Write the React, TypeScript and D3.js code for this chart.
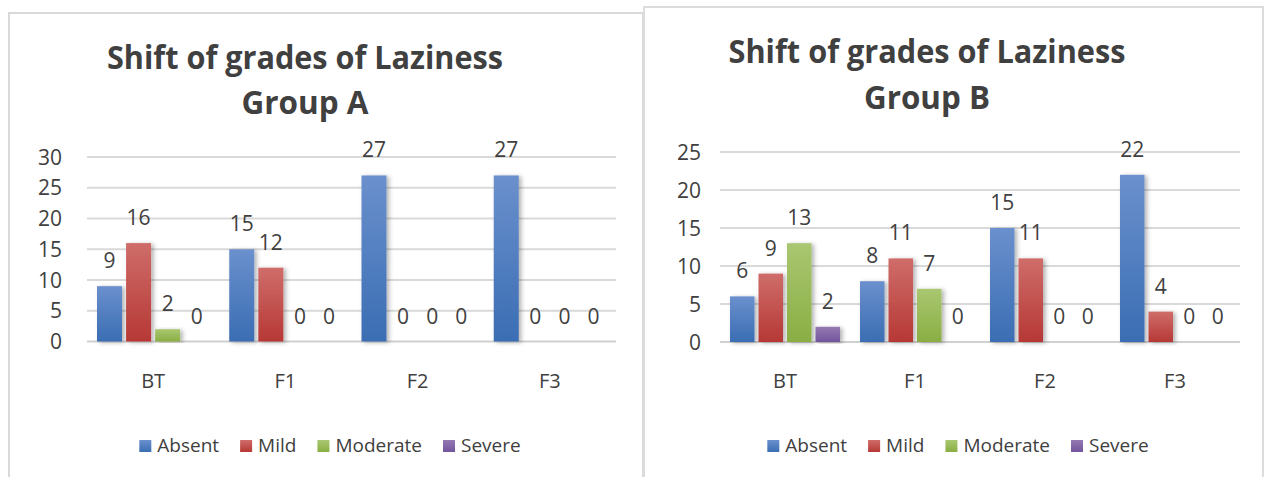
import React, { useEffect, useRef } from "react";
import * as d3 from "d3";

// categories and series shared by both charts
const categories = ["BT", "F1", "F2", "F3"];
const seriesNames = ["Absent", "Mild", "Moderate", "Severe"];

// Group A values, one array per series (BT, F1, F2, F3)
const groupAAbsent = [9, 15, 27, 27];
const groupAMild = [16, 12, 0, 0];
const groupAModerate = [2, 0, 0, 0];
const groupASevere = [0, 0, 0, 0];
const groupATicks = [0, 5, 10, 15, 20, 25, 30];

// Group B values
const groupBAbsent = [6, 8, 15, 22];
const groupBMild = [9, 11, 11, 4];
const groupBModerate = [13, 7, 0, 0];
const groupBSevere = [2, 0, 0, 0];
const groupBTicks = [0, 5, 10, 15, 20, 25];

const colors = [
  { top: "#6b90cd", bottom: "#3a6db3" },
  { top: "#cf6d6a", bottom: "#b63835" },
  { top: "#a9c771", bottom: "#8aae43" },
  { top: "#9479b2", bottom: "#72559d" },
];

const FONT = "'Open Sans', 'Noto Sans', sans-serif";
const TEXT = "#404040";

type ChartConf = {
  id: string;
  title: [string, string];
  titleX: number;
  titleY: [number, number];
  titleW: [number, number];
  values: number[][];
  ticks: number[];
  x0: number;
  x1: number;
  y0: number;
  y1: number;
  labelX: number;
  legendCx: number;
};

const charts: ChartConf[] = [
  {
    id: "a",
    title: ["Shift of grades of Laziness", "Group A"],
    titleX: 305,
    titleY: [69, 114],
    titleW: [396, 127],
    values: [groupAAbsent, groupAMild, groupAModerate, groupASevere],
    ticks: groupATicks,
    x0: 87,
    x1: 616,
    y0: 341.5,
    y1: 157,
    labelX: 62,
    legendCx: 330,
  },
  {
    id: "b",
    title: ["Shift of grades of Laziness", "Group B"],
    titleX: 927,
    titleY: [63, 109],
    titleW: [397, 126],
    values: [groupBAbsent, groupBMild, groupBModerate, groupBSevere],
    ticks: groupBTicks,
    x0: 720,
    x1: 1240,
    y0: 342,
    y1: 152,
    labelX: 701,
    legendCx: 958,
  },
];

const App = () => {
  const svgRef = useRef<SVGSVGElement | null>(null);

  const drawChart = () => {
    if (!svgRef.current) return;
    const svg = d3.select(svgRef.current);
    svg.selectAll("*").remove();

    const defs = svg.append("defs");
    colors.forEach((c, i) => {
      const g = defs
        .append("linearGradient")
        .attr("id", `grad${i}`)
        .attr("x1", 0)
        .attr("y1", 0)
        .attr("x2", 0)
        .attr("y2", 1);
      g.append("stop").attr("offset", "0%").attr("stop-color", c.top);
      g.append("stop").attr("offset", "100%").attr("stop-color", c.bottom);
    });
    defs
      .append("filter")
      .attr("id", "shadow")
      .attr("x", "-30%")
      .attr("y", "-10%")
      .attr("width", "160%")
      .attr("height", "120%")
      .append("feDropShadow")
      .attr("dx", 2.5)
      .attr("dy", 1)
      .attr("stdDeviation", 2)
      .attr("flood-color", "#000")
      .attr("flood-opacity", 0.3);

    // panel borders (B sits over A)
    svg
      .append("rect")
      .attr("x", 9)
      .attr("y", 13)
      .attr("width", 634)
      .attr("height", 520)
      .attr("fill", "#fff")
      .attr("stroke", "#d9d9d9")
      .attr("stroke-width", 2);
    svg
      .append("rect")
      .attr("x", 644)
      .attr("y", 7)
      .attr("width", 619)
      .attr("height", 520)
      .attr("fill", "#fff")
      .attr("stroke", "#dcdcdc")
      .attr("stroke-width", 2);

    charts.forEach((c) => {
      const g = svg.append("g").attr("class", `chart-${c.id}`);

      // title, squeezed to the reference width
      c.title.forEach((t, i) => {
        g.append("text")
          .attr("x", c.titleX)
          .attr("y", c.titleY[i])
          .attr("text-anchor", "middle")
          .attr("font-family", FONT)
          .attr("font-weight", 700)
          .attr("font-size", 32)
          .attr("fill", TEXT)
          .attr("textLength", c.titleW[i])
          .attr("lengthAdjust", "spacingAndGlyphs")
          .text(t);
      });

      const yMax = c.ticks[c.ticks.length - 1];
      const y = d3.scaleLinear().domain([0, yMax]).range([c.y0, c.y1]);
      const x = d3.scaleBand().domain(categories).range([c.x0, c.x1]);
      const xs = d3
        .scaleBand()
        .domain(seriesNames)
        .range([10, x.bandwidth() - 10])
        .paddingInner(0.14);

      // gridlines
      g.selectAll(".grid")
        .data(c.ticks)
        .enter()
        .append("line")
        .attr("x1", c.x0)
        .attr("x2", c.x1)
        .attr("y1", (d) => y(d))
        .attr("y2", (d) => y(d))
        .attr("stroke", (d) => (d === 0 ? "#d0d0d0" : "#d9d9d9"))
        .attr("stroke-width", 1.8);

      // y labels
      g.selectAll(".ylab")
        .data(c.ticks)
        .enter()
        .append("text")
        .attr("x", c.labelX)
        .attr("y", (d) => y(d))
        .attr("dy", "0.36em")
        .attr("text-anchor", "end")
        .attr("font-family", FONT)
        .attr("font-size", 21)
        .attr("fill", TEXT)
        .text((d) => d);

      // x labels
      g.selectAll(".xlab")
        .data(categories)
        .enter()
        .append("text")
        .attr("x", (d) => (x(d) as number) + x.bandwidth() / 2)
        .attr("y", 388)
        .attr("text-anchor", "middle")
        .attr("font-family", FONT)
        .attr("font-size", 20)
        .attr("fill", TEXT)
        .text((d) => d);

      // bars + labels
      const cells = c.values.flatMap((vals, si) =>
        vals.map((v, ci) => ({ s: si, cat: categories[ci], v }))
      );

      g.selectAll(".bar")
        .data(cells.filter((d) => d.v > 0))
        .enter()
        .append("rect")
        .attr("x", (d) => (x(d.cat) as number) + (xs(seriesNames[d.s]) as number))
        .attr("y", (d) => y(d.v))
        .attr("width", xs.bandwidth())
        .attr("height", (d) => y(0) - y(d.v))
        .attr("fill", (d) => `url(#grad${d.s})`)
        .attr("filter", "url(#shadow)");

      g.selectAll(".val")
        .data(cells)
        .enter()
        .append("text")
        .attr(
          "x",
          (d) =>
            (x(d.cat) as number) +
            (xs(seriesNames[d.s]) as number) +
            xs.bandwidth() / 2
        )
        .attr("y", (d) => y(d.v) - 18)
        .attr("text-anchor", "middle")
        .attr("font-family", FONT)
        .attr("font-size", 21)
        .attr("fill", TEXT)
        .text((d) => d.v);

      // legend, laid out from measured text widths
      const leg = g.append("g");
      const items = seriesNames.map((name, i) => {
        const item = leg.append("g");
        item
          .append("rect")
          .attr("x", 0)
          .attr("y", 440)
          .attr("width", 12)
          .attr("height", 12)
          .attr("fill", `url(#grad${i})`);
        const txt = item
          .append("text")
          .attr("x", 18)
          .attr("y", 452)
          .attr("font-family", FONT)
          .attr("font-size", 19)
          .attr("fill", TEXT)
          .text(name);
        const w = (txt.node() as SVGTextElement).getComputedTextLength();
        return { item, w: 18 + w };
      });
      const gap = 21;
      const total = d3.sum(items, (d) => d.w) + gap * (items.length - 1);
      let cx = c.legendCx - total / 2;
      items.forEach((d) => {
        d.item.attr("transform", `translate(${cx},0)`);
        cx += d.w + gap;
      });
    });
  };

  useEffect(() => {
    drawChart();
  }, []);

  return (
    <svg
      ref={svgRef}
      width={1267}
      height={477}
      style={{ position: "absolute", left: 0, top: 0, background: "#fff" }}
    />
  );
};

export default App;
